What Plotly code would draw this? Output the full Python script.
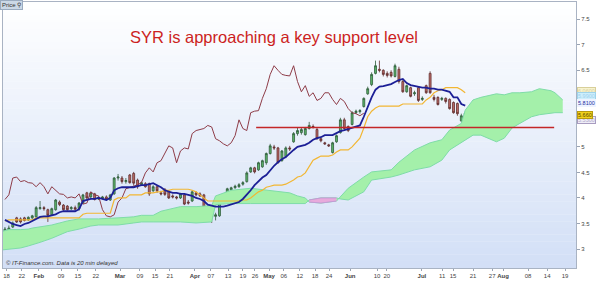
import plotly.graph_objects as go

# ---------------- data ----------------
open_px = [3.31,3.31,3.43,3.61,3.59,3.61,3.57,3.61,3.63,3.79,
           3.81,3.77,3.67,3.77,3.92,3.86,3.84,3.79,3.81,3.79,
           3.90,4.10,4.02,4.08,3.98,3.99,4.02,3.96,4.08,4.39,
           4.39,4.32,4.45,4.48,4.35,4.26,4.28,4.28,4.14,4.22,
           4.10,4.17,4.12,4.04,4.02,4.00,4.06,3.92,3.94,4.10,
           4.08,4.06,3.79,3.67,3.64,3.65,3.90,4.06,4.16,4.20,
           4.22,4.27,4.32,4.51,4.59,4.55,4.61,4.69,4.87,5.00,
           4.98,4.73,4.81,4.98,5.10,5.26,5.28,5.24,5.36,5.40,
           5.34,5.16,5.08,5.04,4.89,5.10,5.28,5.53,5.40,5.44,
           5.67,5.69,5.79,6.04,6.22,6.44,6.52,6.50,6.44,6.46,
           6.38,6.52,6.28,6.08,6.16,6.04,6.16,5.93,6.20,6.44,
           5.97,5.97,5.93,5.95,5.93,5.87,5.85,5.51,5.57]
high_px = [3.43,3.46,3.54,3.63,3.62,3.63,3.64,3.67,3.84,3.94,
           3.84,3.79,3.81,3.98,3.95,3.88,3.86,3.84,3.85,3.92,
           4.08,4.12,4.12,4.10,4.03,4.04,4.05,4.08,4.41,4.47,
           4.43,4.39,4.47,4.51,4.38,4.32,4.31,4.30,4.25,4.24,
           4.14,4.19,4.14,4.07,4.04,4.10,4.08,3.96,4.15,4.13,
           4.11,4.08,3.81,3.70,3.71,3.94,4.02,4.20,4.22,4.26,
           4.29,4.33,4.52,4.61,4.61,4.71,4.75,4.89,5.06,5.04,
           5.00,4.94,5.01,5.02,5.29,5.37,5.38,5.39,5.49,5.44,
           5.37,5.18,5.10,5.06,5.10,5.24,5.57,5.57,5.42,5.70,
           5.73,5.74,5.97,6.18,6.46,6.69,6.69,6.52,6.48,6.50,
           6.63,6.57,6.31,6.22,6.18,6.10,6.18,5.99,6.22,6.48,
           6.02,5.99,5.98,5.97,5.95,5.89,5.87,5.65,5.69]
low_px = [3.26,3.28,3.41,3.51,3.50,3.54,3.55,3.59,3.61,3.77,
          3.75,3.53,3.65,3.75,3.84,3.75,3.75,3.76,3.76,3.75,
          3.88,3.98,4.00,3.95,3.96,3.97,3.95,3.94,4.06,4.34,
          4.28,4.28,4.28,4.24,4.18,4.24,4.20,4.04,4.12,4.10,
          4.05,4.04,3.98,3.99,3.97,3.98,3.86,3.87,3.92,4.03,
          4.02,3.75,3.63,3.51,3.56,3.63,3.88,4.04,4.14,4.18,
          4.20,4.24,4.30,4.49,4.48,4.53,4.59,4.65,4.85,4.94,
          4.67,4.71,4.78,4.92,5.08,5.22,5.24,5.22,5.34,5.36,
          5.14,5.09,5.04,5.00,4.87,5.08,5.26,5.34,5.29,5.42,
          5.65,5.65,5.77,6.02,6.19,6.42,6.46,6.38,6.36,6.36,
          6.36,6.24,6.06,6.06,5.97,6.00,5.88,5.90,6.04,6.04,
          5.89,5.81,5.90,5.85,5.73,5.65,5.61,5.49,5.55]
close_px = [3.39,3.41,3.51,3.53,3.53,3.56,3.62,3.65,3.81,3.81,
            3.79,3.66,3.79,3.96,3.87,3.77,3.77,3.81,3.78,3.90,
            4.06,4.00,4.10,3.97,4.01,4.02,3.97,4.06,4.39,4.41,
            4.32,4.34,4.30,4.29,4.22,4.30,4.22,4.08,4.22,4.14,
            4.08,4.07,4.00,4.02,4.00,4.08,3.88,3.90,4.12,4.06,
            4.04,3.77,3.65,3.63,3.67,3.92,4.00,4.18,4.20,4.23,
            4.26,4.30,4.49,4.59,4.51,4.69,4.73,4.87,5.02,4.98,
            4.69,4.92,4.98,4.96,5.26,5.32,5.34,5.36,5.42,5.39,
            5.16,5.12,5.06,5.02,5.08,5.22,5.53,5.36,5.32,5.67,
            5.70,5.71,5.95,6.14,6.42,6.59,6.50,6.42,6.40,6.39,
            6.59,6.28,6.08,6.20,5.99,6.06,5.91,5.95,6.06,6.06,
            5.93,5.83,5.95,5.89,5.75,5.67,5.65,5.61,5.66]

tenkan = [3.57,3.53,3.49,3.47,3.45,3.49,3.51,3.55,3.59,3.63,
          3.64,3.64,3.66,3.68,3.72,3.74,3.74,3.74,3.74,3.78,
          3.94,3.96,3.98,3.98,4.00,3.98,3.96,4.00,4.15,4.19,
          4.21,4.21,4.21,4.21,4.23,4.25,4.25,4.27,4.29,4.25,
          4.21,4.15,4.12,4.10,4.10,4.08,4.08,4.06,4.04,4.00,
          3.98,3.94,3.87,3.85,3.83,3.83,3.83,3.85,3.87,3.90,
          3.92,3.98,4.06,4.15,4.25,4.33,4.40,4.45,4.55,4.63,
          4.70,4.76,4.80,4.88,4.94,5.00,5.02,5.04,5.08,5.14,
          5.17,5.19,5.23,5.23,5.23,5.27,5.31,5.33,5.35,5.37,
          5.39,5.42,5.59,5.80,5.97,6.12,6.18,6.19,6.21,6.23,
          6.27,6.31,6.33,6.25,6.21,6.19,6.18,6.16,6.16,6.14,
          6.14,6.12,6.12,6.10,6.08,5.97,5.97,5.84,5.81]
kijun = [3.55,3.57,3.57,3.57,3.57,3.57,3.57,3.57,3.61,3.61,
         3.61,3.61,3.61,3.61,3.61,3.61,3.61,3.61,3.61,3.61,
         3.68,3.70,3.70,3.70,3.70,3.70,3.70,3.70,3.96,4.00,
         4.00,4.00,4.06,4.06,4.06,4.06,4.10,4.10,4.10,4.12,
         4.12,4.15,4.15,4.17,4.17,4.17,4.17,4.17,4.15,4.12,
         4.06,4.00,3.94,3.94,3.94,3.94,3.94,3.94,3.94,3.94,
         3.94,3.96,3.96,4.00,4.06,4.12,4.15,4.21,4.23,4.25,
         4.25,4.25,4.27,4.31,4.35,4.41,4.43,4.49,4.63,4.74,
         4.78,4.82,4.82,4.82,4.84,4.90,4.94,4.94,4.94,5.00,
         5.08,5.17,5.37,5.59,5.70,5.76,5.80,5.80,5.80,5.80,
         5.80,5.80,5.84,5.84,5.84,5.84,5.84,5.84,5.92,5.97,
         6.06,6.10,6.12,6.16,6.16,6.16,6.16,6.12,6.06]

# cloud (senkou spans), sampled on trading-day index
cloud_idx = [-1, 1, 4, 6, 7, 9, 12, 14, 16, 19, 22, 24, 29, 33, 35, 38, 40, 42, 45, 49,
             53, 54, 58, 63, 68, 73, 75, 77, 78, 81, 85, 86, 88, 92, 94, 99, 101, 105, 109, 112,
             114, 117, 118, 120, 122, 126, 128, 130, 132, 135, 137, 140, 141, 143]
senkou_a = [3.34,3.38,3.38,3.39,3.41, 3.43,3.47,3.51,3.55,3.59, 3.59,3.59,3.61,3.63,3.66,
            3.66,3.74,3.78,3.83,3.83, 3.85,4.04,4.15,4.19,4.14, 4.10,4.04,4.00,3.92,3.90,
            3.94,4.02,4.19,4.41,4.51, 4.55,4.70,4.94,5.08,5.14, 5.33,5.46,5.72,5.92,5.97,
            6.04,6.02,6.06,6.06,6.08, 6.14,6.10,6.06,5.92]
senkou_b = [2.98,3.00,3.02,3.06,3.08, 3.13,3.21,3.28,3.34,3.39, 3.45,3.47,3.47,3.51,3.53,
            3.53,3.53,3.53,3.53,3.51, 3.53,3.87,3.89,3.89,3.89, 3.89,3.89,3.89,3.96,4.00,
            4.00,3.98,3.96,4.12,4.35, 4.41,4.45,4.55,4.61,4.74, 4.94,5.08,5.12,5.23,5.23,
            5.10,5.17,5.37,5.46,5.59, 5.63,5.67,5.67,5.67]

support_level = 5.38
support_span = [64.4, 140.8]
chikou_shift = 26

x_tick_pos = [0.4, 4.3, 8.7, 14.4, 18.7, 23.3, 29.5, 34.6, 38.5, 42.3, 48.7, 52.8, 57.2, 61.0,
              64.1, 67.7, 71.5, 75.6, 79.5, 83.1, 88.5, 95.4, 97.9, 106.9, 112.1, 114.9, 120.0,
              124.9, 127.7, 134.1, 139.0, 143.6]
x_tick_text = ["18", "22", "Feb", "09", "15", "22", "Mar", "09", "15", "21", "Apr", "07", "13",
               "19", "26", "May", "06", "12", "18", "24", "Jun", "10", "20", "Jul", "11", "15",
               "21", "27", "Aug", "08", "14", "19"]
months = {"Feb", "Mar", "Apr", "May", "Jun", "Jul", "Aug"}
y_tick_vals = [3, 3.5, 4, 4.5, 5, 6.5, 7, 7.5]
y_tick_text = ["3", "3.5", "4", "4.5", "5", "6.5", "7", "7.5"]

# right-hand price tags: (value, text, bg, border, text colour)
price_tags = [
    (5.53, "5.5300", "#efedf7", "#a89cc0", "#b0a8c8"),
    (6.10, "6.0600", "#f7f3cf", "#d8cf9a", "#d8d0a0"),
    (5.99, "5.9900", "#cdeefb", "#9fd3ea", "#9fd0ee"),
    (5.86, "5.8100", "#eef3ff", "#eef3ff", "#1f2f9f"),
    (5.63, "5.660", "#f2d21c", "#b89a10", "#5a4300"),
]

# ---------------- figure ----------------
N = len(close_px)
idx = list(range(N))
fig = go.Figure()

edge = "#7fdca8"
fig.add_trace(go.Scatter(x=cloud_idx, y=senkou_b, mode="lines",
                         line=dict(color=edge, width=1), hoverinfo="skip", showlegend=False))
fig.add_trace(go.Scatter(x=cloud_idx, y=senkou_a, mode="lines", fill="tonexty",
                         fillcolor="#a4f0aa", line=dict(color=edge, width=1),
                         hoverinfo="skip", showlegend=False))
pink_k = [k for k in range(len(cloud_idx)) if senkou_a[k] < senkou_b[k]]
fig.add_trace(go.Scatter(x=[cloud_idx[k] for k in pink_k], y=[senkou_b[k] for k in pink_k],
                         mode="lines", line=dict(color="#c49ad6", width=1),
                         hoverinfo="skip", showlegend=False))
fig.add_trace(go.Scatter(x=[cloud_idx[k] for k in pink_k], y=[senkou_a[k] for k in pink_k],
                         mode="lines", fill="tonexty", fillcolor="#e8aadb",
                         line=dict(color="#c49ad6", width=1),
                         hoverinfo="skip", showlegend=False))

# lagging span
fig.add_trace(go.Scatter(x=idx[:N - chikou_shift], y=close_px[chikou_shift:], mode="lines",
                         line=dict(color="#8e3c48", width=1), hoverinfo="skip", showlegend=False))
# base line
fig.add_trace(go.Scatter(x=idx, y=kijun, mode="lines",
                         line=dict(color="#f2b632", width=1.2), hoverinfo="skip", showlegend=False))
# candles
fig.add_trace(go.Candlestick(x=idx, open=open_px, high=high_px, low=low_px, close=close_px,
                             increasing=dict(fillcolor="#5cb96a", line=dict(color="#2f5a3a", width=0.8)),
                             decreasing=dict(fillcolor="#bf6d68", line=dict(color="#5e2c2c", width=0.8)),
                             whiskerwidth=0, hoverinfo="skip", showlegend=False))
# conversion line
fig.add_trace(go.Scatter(x=idx, y=tenkan, mode="lines",
                         line=dict(color="#1c1f96", width=1.8), hoverinfo="skip", showlegend=False))
# support level
fig.add_trace(go.Scatter(x=support_span, y=[support_level, support_level], mode="lines",
                         line=dict(color="#c42628", width=1.5), hoverinfo="skip", showlegend=False))

# gradient background of the plot area
shapes = []
n_strips = 40
top_c = (255, 255, 255)
bot_c = (210, 223, 246)
for k in range(n_strips):
    t = (k + 0.5) / n_strips
    c = tuple(round(bot_c[j] + (top_c[j] - bot_c[j]) * t) for j in range(3))
    shapes.append(dict(type="rect", xref="paper", yref="paper", x0=0, x1=1,
                       y0=k / n_strips, y1=(k + 1) / n_strips + 0.001,
                       fillcolor="rgb(%d,%d,%d)" % c, line=dict(width=0), layer="below"))

annotations = [
    dict(text="SYR is approaching a key support level", xref="paper", yref="paper",
         x=0.473, y=0.87, xanchor="center", yanchor="middle", showarrow=False,
         font=dict(size=16.5, color="#cc1f22", family="Liberation Sans, Arial")),
    dict(text="<i>© IT-Finance.com. Data is 20 min delayed</i>", xref="paper", yref="paper",
         x=0, y=0, xanchor="left", yanchor="bottom", xshift=1, yshift=0, showarrow=False,
         font=dict(size=6, color="#333333", family="Liberation Sans, Arial")),
    dict(text="Price ⚲", xref="paper", yref="paper", x=0, y=1, xanchor="left", yanchor="top",
         xshift=-3, yshift=2, showarrow=False, bgcolor="#cbd8e6", bordercolor="#9aabc0",
         borderwidth=1, borderpad=1,
         font=dict(size=6, color="#333333", family="Liberation Sans, Arial")),
]
for val, txt, bg, bd, fc in price_tags:
    annotations.append(dict(text=txt, xref="paper", yref="y", x=1, y=val, xanchor="left",
                            yanchor="middle", xshift=1, showarrow=False, bgcolor=bg,
                            bordercolor=bd, borderwidth=1, borderpad=0,
                            font=dict(size=5.5, color=fc, family="Liberation Sans, Arial")))

fig.update_layout(
    width=602, height=281,
    margin=dict(l=3, r=26, t=2, b=13, pad=0),
    paper_bgcolor="white", plot_bgcolor="rgba(0,0,0,0)",
    showlegend=False, template="none",
    font=dict(family="Liberation Sans, Arial", size=6, color="#444444"),
    shapes=shapes, annotations=annotations,
    xaxis=dict(range=[-0.5, 146.4], tickvals=x_tick_pos,
               ticktext=["<b>%s</b>" % t if t in months else t for t in x_tick_text],
               tickangle=0, ticks="outside", ticklen=2, tickcolor="#9aa4b4",
               tickfont=dict(size=6, color="#444"),
               showgrid=False, zeroline=False, showline=True, linecolor="#a9b3c3", mirror=True,
               rangeslider=dict(visible=False), automargin=False, fixedrange=True),
    yaxis=dict(range=[2.628, 7.838], side="right", tickvals=y_tick_vals, ticktext=y_tick_text,
               ticks="outside", ticklen=3, tickcolor="#9aa4b4", tickfont=dict(size=6, color="#444"),
               showgrid=False, zeroline=False, showline=True, linecolor="#a9b3c3", mirror=True,
               automargin=False, fixedrange=True),
)

fig.write_html("out.html")
